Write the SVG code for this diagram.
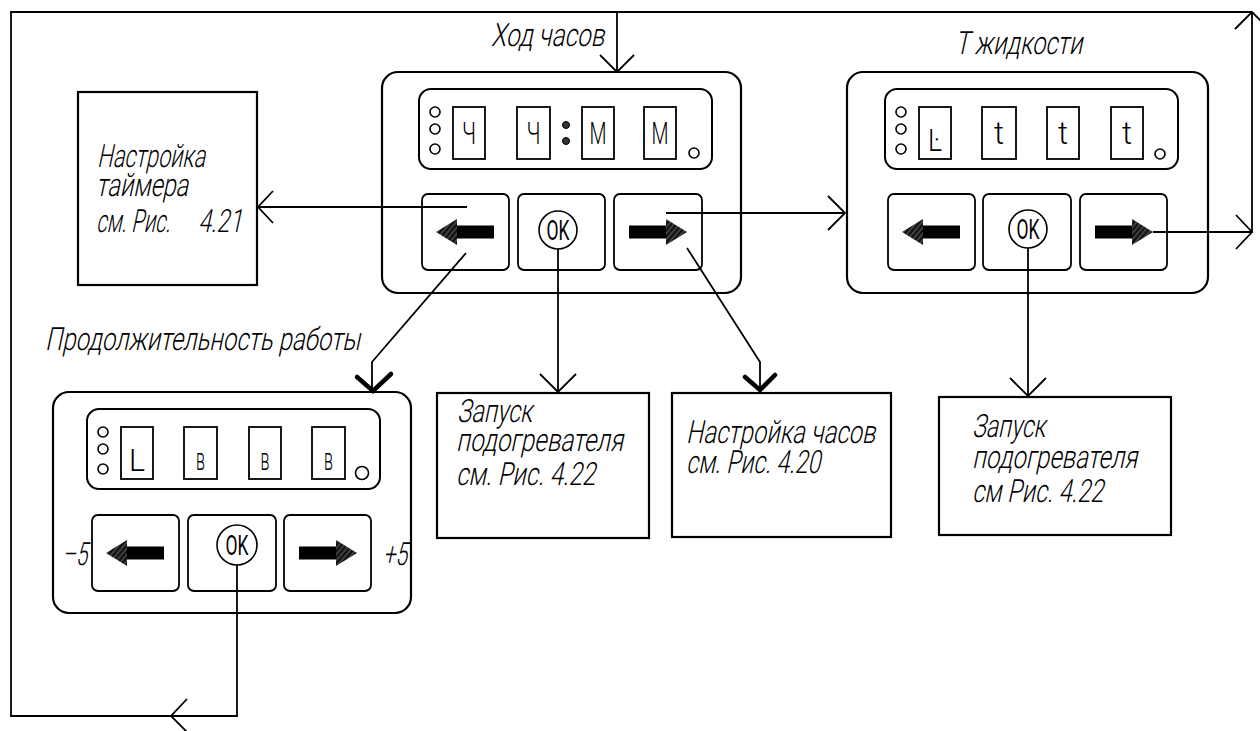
<svg xmlns="http://www.w3.org/2000/svg" width="1260" height="731" viewBox="0 0 1260 731">
  <defs>
    <style>
      .ln{fill:none;stroke:#000;stroke-width:1.8}
      .pn{fill:#fff;stroke:#000;stroke-width:2.2}
      .dsp{fill:#fff;stroke:#000;stroke-width:2}
      .dig{fill:#fff;stroke:#000;stroke-width:1.8}
      .ind{fill:#fff;stroke:#000;stroke-width:1.6}
      .bold{fill:none;stroke:#000;stroke-width:4.5;stroke-linecap:round;stroke-linejoin:miter}
      .lbl{font-family:Roboto,"DejaVu Sans",sans-serif;font-weight:300;font-size:32px;fill:#000}
      .ch{font-family:Roboto,"DejaVu Sans",sans-serif;font-weight:300;font-size:31px;fill:#000;text-anchor:middle}
      .ok{font-family:Roboto,"DejaVu Sans",sans-serif;font-weight:400;font-size:27px;fill:#000;text-anchor:middle}
      .fill{fill:#000}
    </style>
    <pattern id="hatch" width="4" height="4" patternUnits="userSpaceOnUse" patternTransform="rotate(40)">
      <rect width="4" height="4" fill="#111"/>
      <line x1="1" y1="0" x2="1" y2="4" stroke="#6a6a6a" stroke-width="1"/>
    </pattern>
    <!-- filled direction arrows, tip at origin -->
    <g id="arrowLeft">
      <rect x="21" y="-6.5" width="37" height="13" class="fill"/>
      <polygon points="0,0 21,-13 21,13" fill="url(#hatch)"/>
    </g>
    <g id="arrowRight">
      <rect x="-58" y="-6.5" width="37" height="13" class="fill"/>
      <polygon points="0,0 -21,-13 -21,13" fill="url(#hatch)"/>
    </g>
  </defs>

  <rect width="1260" height="731" fill="#fff"/>

  <!-- clock panel -->
  <g id="panel-clock" transform="translate(382,72)">
    <rect class="pn" x="0" y="0" width="359" height="221" rx="16"/>
    <rect class="dsp" x="37" y="17" width="293" height="80" rx="12"/>
    <circle class="ind" cx="53" cy="40" r="5"/>
    <circle class="ind" cx="53" cy="57" r="5"/>
    <circle class="ind" cx="53" cy="77" r="5"/>
    <rect class="dig" x="71" y="35" width="32" height="52"/>
    <rect class="dig" x="135" y="35" width="33" height="52"/>
    <rect class="dig" x="200" y="35" width="32" height="52"/>
    <rect class="dig" x="262" y="35" width="32" height="52"/>
    <circle cx="184" cy="53" r="3.5" fill="#333" stroke="#000" stroke-width="1"/>
    <circle cx="184" cy="69" r="3.5" fill="#333" stroke="#000" stroke-width="1"/>
    <circle class="ind" cx="312" cy="81" r="5"/>
    <text class="ch" x="87" y="72" textLength="14" lengthAdjust="spacingAndGlyphs">Ч</text>
    <text class="ch" x="151.5" y="72" textLength="14" lengthAdjust="spacingAndGlyphs">Ч</text>
    <text class="ch" x="216" y="72" textLength="17" lengthAdjust="spacingAndGlyphs">М</text>
    <text class="ch" x="278" y="72" textLength="17" lengthAdjust="spacingAndGlyphs">М</text>
    <rect class="dig" x="40" y="122" width="87" height="76" rx="6"/>
    <rect class="dig" x="136" y="122" width="87" height="76" rx="6"/>
    <rect class="dig" x="232" y="122" width="88" height="76" rx="6"/>
    <use href="#arrowLeft" x="54" y="160"/>
    <circle class="ind" cx="176" cy="158" r="19"/>
    <text class="ok" x="176" y="168" textLength="23" lengthAdjust="spacingAndGlyphs">OK</text>
    <use href="#arrowRight" x="305" y="160"/>
  </g>

  <!-- liquid temperature panel -->
  <g id="panel-temp" transform="translate(847,72)">
    <rect class="pn" x="0" y="0" width="361" height="221" rx="16"/>
    <rect class="dsp" x="38" y="17" width="293" height="80" rx="12"/>
    <circle class="ind" cx="54" cy="40" r="5"/>
    <circle class="ind" cx="54" cy="57" r="5"/>
    <circle class="ind" cx="54" cy="77" r="5"/>
    <rect class="dig" x="72" y="35" width="32" height="52"/>
    <rect class="dig" x="135" y="35" width="34" height="52"/>
    <rect class="dig" x="200" y="35" width="32" height="52"/>
    <rect class="dig" x="264" y="35" width="32" height="52"/>
    <circle class="ind" cx="313" cy="82" r="5"/>
    <text class="ch" x="88" y="79" textLength="14" lengthAdjust="spacingAndGlyphs">Ŀ</text>
    <text class="ch" x="152" y="72" font-size="26">t</text>
    <text class="ch" x="216" y="72" font-size="26">t</text>
    <text class="ch" x="280" y="72" font-size="26">t</text>
    <rect class="dig" x="41" y="122" width="87" height="76" rx="6"/>
    <rect class="dig" x="136" y="122" width="88" height="76" rx="6"/>
    <rect class="dig" x="233" y="122" width="87" height="76" rx="6"/>
    <use href="#arrowLeft" x="55" y="160"/>
    <circle class="ind" cx="181" cy="157" r="19"/>
    <text class="ok" x="181" y="167" textLength="23" lengthAdjust="spacingAndGlyphs">OK</text>
    <use href="#arrowRight" x="306" y="160"/>
  </g>

  <!-- operating duration panel -->
  <g id="panel-duration" transform="translate(53,392)">
    <rect class="pn" x="0" y="0" width="358" height="221" rx="16"/>
    <rect class="dsp" x="34" y="17" width="293" height="80" rx="12"/>
    <circle class="ind" cx="50" cy="40" r="5"/>
    <circle class="ind" cx="50" cy="57" r="5"/>
    <circle class="ind" cx="50" cy="77" r="5"/>
    <rect class="dig" x="68" y="35" width="32" height="52"/>
    <rect class="dig" x="131" y="35" width="33" height="52"/>
    <rect class="dig" x="196" y="35" width="32" height="52"/>
    <rect class="dig" x="259" y="35" width="33" height="52"/>
    <circle class="ind" cx="309" cy="81" r="6.5"/>
    <text class="ch" x="84" y="79" font-size="38" textLength="16" lengthAdjust="spacingAndGlyphs">L</text>
    <text class="ch" x="147.5" y="78" font-size="22" textLength="9" lengthAdjust="spacingAndGlyphs">в</text>
    <text class="ch" x="212" y="78" font-size="22" textLength="9" lengthAdjust="spacingAndGlyphs">в</text>
    <text class="ch" x="275.5" y="78" font-size="22" textLength="9" lengthAdjust="spacingAndGlyphs">в</text>
    <rect class="dig" x="39" y="123" width="87" height="76" rx="6"/>
    <rect class="dig" x="135" y="123" width="88" height="76" rx="6"/>
    <rect class="dig" x="231" y="123" width="87" height="76" rx="6"/>
    <use href="#arrowLeft" x="53" y="161"/>
    <circle class="ind" cx="184" cy="153" r="20"/>
    <text class="ok" x="184" y="163" textLength="23" lengthAdjust="spacingAndGlyphs">OK</text>
    <use href="#arrowRight" x="304" y="161"/>
  </g>

  <!-- result boxes -->
  <g id="box-timer">
    <rect class="pn" x="78" y="92" width="179" height="193"/>
    <text class="lbl" transform="translate(97,167) skewX(-12)" textLength="108" lengthAdjust="spacingAndGlyphs">Настройка</text>
    <text class="lbl" transform="translate(96,196) skewX(-12)" textLength="92" lengthAdjust="spacingAndGlyphs">таймера</text>
    <text class="lbl" transform="translate(96,232) skewX(-12)" textLength="74" lengthAdjust="spacingAndGlyphs">см. Рис.</text>
    <text class="lbl" transform="translate(198,232) skewX(-12)" textLength="44" lengthAdjust="spacingAndGlyphs">4.21</text>
  </g>
  <g id="box-start1">
    <rect class="pn" x="437" y="393" width="212" height="145"/>
    <text class="lbl" transform="translate(457,422) skewX(-12)" textLength="75" lengthAdjust="spacingAndGlyphs">Запуск</text>
    <text class="lbl" transform="translate(456,451) skewX(-12)" textLength="167" lengthAdjust="spacingAndGlyphs">подогревателя</text>
    <text class="lbl" transform="translate(456,485) skewX(-12)" textLength="139" lengthAdjust="spacingAndGlyphs">см. Рис. 4.22</text>
  </g>
  <g id="box-clock">
    <rect class="pn" x="672" y="393" width="219" height="144"/>
    <text class="lbl" transform="translate(686,443) skewX(-12)" textLength="189" lengthAdjust="spacingAndGlyphs">Настройка часов</text>
    <text class="lbl" transform="translate(686,473) skewX(-12)" textLength="134" lengthAdjust="spacingAndGlyphs">см. Рис. 4.20</text>
  </g>
  <g id="box-start2">
    <rect class="pn" x="939" y="397" width="232" height="138"/>
    <text class="lbl" transform="translate(972,437) skewX(-12)" textLength="73" lengthAdjust="spacingAndGlyphs">Запуск</text>
    <text class="lbl" transform="translate(972,468) skewX(-12)" textLength="165" lengthAdjust="spacingAndGlyphs">подогревателя</text>
    <text class="lbl" transform="translate(972,502) skewX(-12)" textLength="131" lengthAdjust="spacingAndGlyphs">см Рис. 4.22</text>
  </g>

  <!-- captions -->
  <g id="captions">
    <text class="lbl" transform="translate(491,46) skewX(-12)" textLength="113" lengthAdjust="spacingAndGlyphs">Ход часов</text>
    <text class="lbl" transform="translate(955,54) skewX(-12)" textLength="127" lengthAdjust="spacingAndGlyphs">Т жидкости</text>
    <text class="lbl" transform="translate(45,350) skewX(-12)" textLength="315" lengthAdjust="spacingAndGlyphs">Продолжительность работы</text>
    <text class="lbl" transform="translate(62,565) skewX(-12)" textLength="25" lengthAdjust="spacingAndGlyphs">–5</text>
    <text class="lbl" transform="translate(383,565) skewX(-12)" textLength="24" lengthAdjust="spacingAndGlyphs">+5</text>
  </g>

  <!-- connectors -->
  <g id="connectors">
    <!-- outer loop: duration OK -> left edge -> top -> clock panel -->
    <polyline class="ln" points="237,565 237,716 11,716 11,12 1252,12"/>
    <polyline class="ln" points="187,699 171,716 187,732"/>
    <polyline class="ln" points="617,12 617,72"/>
    <polyline class="ln" points="600,55 617,72 634,55"/>
    <!-- temperature right arrow -> right edge -> top -->
    <polyline class="ln" points="1153,232 1252,232 1252,12"/>
    <polyline class="ln" points="1236,215 1252,232 1236,249"/>
    <polyline class="ln" points="1235,29 1252,12 1269,29"/>
    <!-- clock left -> timer setup -->
    <line class="ln" x1="467" y1="207" x2="258" y2="207"/>
    <polyline class="ln" points="273,191 258,207 273,223"/>
    <!-- clock right -> temperature panel -->
    <line class="ln" x1="666" y1="213" x2="845" y2="213"/>
    <polyline class="ln" points="828,196 845,213 828,230"/>
    <!-- clock left -> duration panel -->
    <polyline class="ln" points="466,253 372,362 372,392"/>
    <polyline class="bold" points="357,377 373,391 391,374"/>
    <!-- clock OK -> heater start -->
    <line class="ln" x1="558" y1="249" x2="558" y2="392"/>
    <polyline class="ln" points="540,374 558,392 576,374"/>
    <!-- clock right -> clock setting -->
    <polyline class="ln" points="687,248 760,362 760,390"/>
    <polyline class="bold" points="745,377 760,390 775,375"/>
    <!-- temperature OK -> heater start -->
    <line class="ln" x1="1028" y1="248" x2="1028" y2="396"/>
    <polyline class="ln" points="1010,378 1028,396 1046,378"/>
  </g>
</svg>
